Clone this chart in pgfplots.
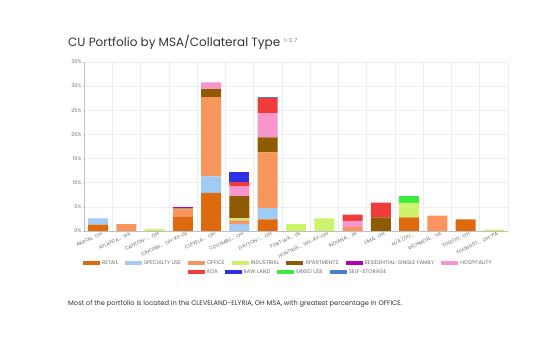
\documentclass[border=0pt]{standalone}
\usepackage{fontspec}
\setmainfont{Poppins}
\usepackage{pgfplots}
\pgfplotsset{compat=1.18}
\definecolor{cRetail}{HTML}{DE6A10}
\definecolor{cSpec}{HTML}{9FCBF5}
\definecolor{cOffice}{HTML}{F8955C}
\definecolor{cInd}{HTML}{CDF26C}
\definecolor{cApt}{HTML}{8E5B02}
\definecolor{cRes}{HTML}{B300B3}
\definecolor{cHosp}{HTML}{F796CB}
\definecolor{cADA}{HTML}{F03B3B}
\definecolor{cRaw}{HTML}{2F2FE6}
\definecolor{cMixed}{HTML}{3DEB3D}
\definecolor{cSelf}{HTML}{4A7FCF}
\definecolor{txt}{HTML}{333333}
\definecolor{lbl}{HTML}{6E6E6E}
\newcommand{\el}{.\kern0pt.\kern0pt.}
\pgfplotsset{
  swatch/.style={legend image code/.code={\fill[##1] (0pt,-2pt) rectangle (17pt,2pt);}},
  lgd/.style={legend style={draw=none, fill=none, font=\fontsize{5.3}{6}\selectfont, text=lbl,
      /tikz/every even column/.append style={column sep=5pt}, inner sep=0pt, row sep=1pt}},
}
\begin{document}
\begin{tikzpicture}
\path[use as bounding box, fill=white] (0pt,0pt) rectangle (557pt,350pt);
\node[anchor=base west, inner sep=0pt, text=txt, font=\fontsize{12}{14}\selectfont] at (68pt,303pt)
  {CU Portfolio by MSA/Collateral Type\hspace{4pt}\raisebox{4pt}{\fontsize{5.3}{6}\selectfont\color{lbl}1-3, 7}};
\node[anchor=base west, inner sep=0pt, text=txt, font=\fontsize{6.7}{8}\selectfont] at (68pt,44pt)
  {Most of the portfolio is located in the CLEVELAND-ELYRIA, OH MSA, with greatest percentage in OFFICE.};
\begin{axis}[
  at={(84pt,119pt)}, anchor=south west, scale only axis, width=424pt, height=169pt,
  ybar stacked, bar width=20pt,
  xmin=-0.5, xmax=14.5, ymin=0, ymax=35,
  ytick={0,5,...,35}, yticklabel={\pgfmathprintnumber{\tick}\%},
  xtick={0,1,2,3,4,5,6,7,8,9,10,11,12,13,14},
  xticklabels={{AKRON,\ \ OH},{ATLANTA\el\ \ GA},{CANTON-\el\ \ OH},{CINCINN\el\ \ OH-KY-IN},{CLEVELA\el\ \ OH},{COLUMBU\el\ \ OH},{DAYTON-\el\ \ OH},{FORT WA\el\ \ IN},{HUNTING\el\ \ WV-KY-OH},{INDIANA\el\ \ IN},{LIMA,\ \ OH},{N/A (OU\el},{RICHMON\el\ \ VA},{TOLEDO,\ \ OH},{YOUNGST\el\ \ OH-PA}},
  minor xtick={-0.5,0.5,1.5,2.5,3.5,4.5,5.5,6.5,7.5,8.5,9.5,10.5,11.5,12.5,13.5,14.5},
  xminorgrids, ymajorgrids,
  grid style={draw=black!7, line width=0.5pt},
  minor grid style={draw=black!7, line width=0.5pt},
  axis lines=left, axis line style={-, draw=black!25, line width=0.5pt},
  xtick style={draw=none}, minor tick length=0pt,
  ytick style={draw=black!25}, major tick length=2pt,
  tick label style={font=\fontsize{5}{6}\selectfont, text=lbl},
  x tick label style={rotate=25, anchor=north east, inner sep=1pt, xshift=4pt},
  y tick label style={inner sep=1.5pt},
  /pgf/number format/assume math mode=true,
  every axis plot/.append style={draw=none},
  lgd, swatch, legend columns=7,
  legend style={at={(0.482,-0.189)}, anchor=center},
]
\addplot[fill=cRetail] coordinates {(0,1.3)(1,0)(2,0)(3,2.9)(4,7.9)(5,0)(6,2.4)(7,0)(8,0)(9,0)(10,0)(11,2.8)(12,0)(13,2.4)(14,0)};
\addlegendentry{RETAIL}
\addplot[fill=cSpec] coordinates {(0,1.3)(1,0)(2,0)(3,0)(4,3.4)(5,1.5)(6,2.35)(7,0)(8,0)(9,0)(10,0)(11,0)(12,0)(13,0)(14,0)};
\addlegendentry{SPECIALTY USE}
\addplot[fill=cOffice] coordinates {(0,0)(1,1.4)(2,0)(3,1.6)(4,16.4)(5,0.7)(6,11.55)(7,0)(8,0)(9,0.8)(10,0)(11,0)(12,3.2)(13,0)(14,0)};
\addlegendentry{OFFICE}
\addplot[fill=cInd] coordinates {(0,0)(1,0)(2,0.4)(3,0)(4,0)(5,0.4)(6,0)(7,1.4)(8,2.6)(9,0)(10,0)(11,3.0)(12,0)(13,0)(14,0.3)};
\addlegendentry{INDUSTRIAL}
\addplot[fill=cApt] coordinates {(0,0)(1,0)(2,0)(3,0.2)(4,1.7)(5,4.6)(6,3.1)(7,0)(8,0)(9,0)(10,2.8)(11,0)(12,0)(13,0)(14,0)};
\addlegendentry{APARTMENTS}
\addplot[fill=cRes] coordinates {(0,0)(1,0)(2,0)(3,0.2)(4,0)(5,0)(6,0)(7,0)(8,0)(9,0)(10,0)(11,0)(12,0)(13,0)(14,0)};
\addlegendentry{RESIDENTIAL-SINGLE FAMILY}
\addplot[fill=cHosp] coordinates {(0,0)(1,0)(2,0)(3,0)(4,1.4)(5,2.1)(6,5.0)(7,0)(8,0)(9,1.3)(10,0)(11,0)(12,0)(13,0)(14,0)};
\addlegendentry{HOSPITALITY}
\addplot[fill=cADA] coordinates {(0,0)(1,0)(2,0)(3,0)(4,0)(5,0.8)(6,3.1)(7,0)(8,0)(9,1.3)(10,3.1)(11,0)(12,0)(13,0)(14,0)};
\addplot[fill=cRaw] coordinates {(0,0)(1,0)(2,0)(3,0)(4,0)(5,2.1)(6,0)(7,0)(8,0)(9,0)(10,0)(11,0)(12,0)(13,0)(14,0)};
\addplot[fill=cMixed] coordinates {(0,0)(1,0)(2,0)(3,0)(4,0)(5,0)(6,0)(7,0)(8,0)(9,0)(10,0)(11,1.4)(12,0)(13,0)(14,0)};
\addplot[fill=cSelf] coordinates {(0,0)(1,0)(2,0)(3,0)(4,0)(5,0)(6,0.2)(7,0)(8,0)(9,0)(10,0)(11,0)(12,0)(13,0)(14,0)};
\end{axis}
\begin{axis}[
  at={(288pt,78pt)}, anchor=center, scale only axis, width=10pt, height=10pt, hide axis,
  xmin=0, xmax=1, ymin=0, ymax=1,
  lgd, swatch, legend columns=4,
  legend style={at={(0.5,0.5)}, anchor=center},
]
\addlegendimage{fill=cADA, draw=none}\addlegendentry{ADA}
\addlegendimage{fill=cRaw, draw=none}\addlegendentry{RAW LAND}
\addlegendimage{fill=cMixed, draw=none}\addlegendentry{MIXED USE}
\addlegendimage{fill=cSelf, draw=none}\addlegendentry{SELF-STORAGE}
\end{axis}
\end{tikzpicture}
\end{document}
